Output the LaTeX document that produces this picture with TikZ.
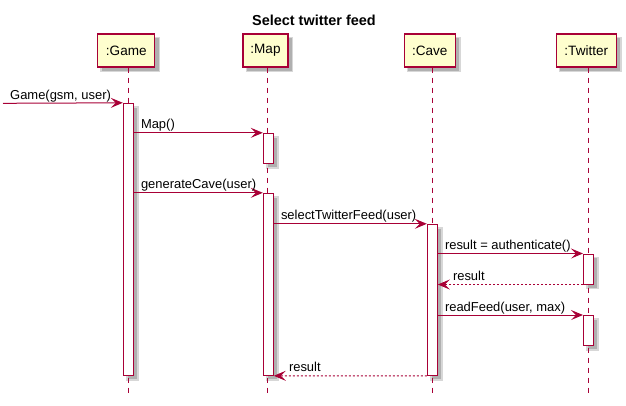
\documentclass[tikz,border=0pt]{standalone}
\usepackage{fontspec}
\setmainfont{Liberation Sans}
\usetikzlibrary{arrows.meta,backgrounds}
\definecolor{pumlred}{HTML}{A80036}
\definecolor{pumlfill}{HTML}{FEFECE}
\definecolor{shadowc}{HTML}{B0B0B0}
\begin{document}
\begin{tikzpicture}[x=1bp,y=-1bp,
  every node/.style={font=\fontsize{13}{15}\selectfont, inner sep=0pt},
  part/.style={draw=pumlred, line width=1.3bp, fill=pumlfill, minimum height=33bp, font=\fontsize{13.6}{15}\selectfont},
  act/.style={draw=pumlred, line width=1bp, fill=white, minimum width=10bp},
  life/.style={draw=pumlred, line width=1bp, dash pattern=on 5bp off 5bp},
  msg/.style={draw=pumlred, line width=1bp, -{Stealth[length=12bp,width=10bp,inset=5bp]}},
  ret/.style={msg, dash pattern=on 2bp off 2bp},
  lbl/.style={anchor=base west, xshift=7bp, yshift=4bp},
  rlbl/.style={anchor=base west, xshift=15bp, yshift=4bp},
  shadowbox/.style={fill=shadowc, draw=shadowc!50, line width=1.5bp},
]
\useasboundingbox (0,0) rectangle (626,405);

% title
\node[font=\bfseries\fontsize{14.5}{16}\selectfont] (title) at (314,20) {Select twitter feed};

% participants
\node[part, minimum width=57bp] (gameP) at (126.3,50.5) {:Game};
\node[part, minimum width=45bp] (mapP) at (265.5,50.5) {:Map};
\node[part, minimum width=51bp] (caveP) at (429.7,50.5) {:Cave};
\node[part, minimum width=60bp] (twP) at (586.3,50.5) {:Twitter};

% lifeline ends
\coordinate (gameE) at (128.3,395);
\coordinate (mapE) at (267.8,395);
\coordinate (caveE) at (432,395);
\coordinate (twE) at (588.5,395);

\draw[life] (gameE |- gameP.south) -- (gameE);
\draw[life] (mapE |- mapP.south) -- (mapE);
\draw[life] (caveE |- caveP.south) -- (caveE);
\draw[life] (twE |- twP.south) -- (twE);

% activations
\node[act, minimum height=272bp] (gameA) at (128.3,239.3) {};
\node[act, minimum height=30bp] (mapA1) at (268.3,148.3) {};
\node[act, minimum height=182bp] (mapA2) at (268.3,284.3) {};
\node[act, minimum height=151bp] (caveA) at (432.3,299.8) {};
\node[act, minimum height=30bp] (twA1) at (588.5,269) {};
\node[act, minimum height=30bp] (twA2) at (588.5,330.5) {};

% shadows
\begin{scope}[on background layer]
  \foreach \n in {gameP,mapP,caveP,twP,gameA,mapA1,mapA2,caveA,twA1,twA2}
    \path[shadowbox] ([shift={(4,4)}]\n.north west) rectangle ([shift={(4,4)}]\n.south east);
\end{scope}

\coordinate (start) at (3,103.3);

% messages
\draw[msg] (start) -- (gameA.north west);
\node[lbl] (l1) at (start) {Game(gsm, user)};

\draw[msg] (gameA.east |- mapA1.north) -- (mapA1.north west);
\node[lbl] (l2) at (gameA.east |- mapA1.north) {Map()};

\draw[msg] (gameA.east |- mapA2.north) -- (mapA2.north west);
\node[lbl] (l3) at (gameA.east |- mapA2.north) {generateCave(user)};

\draw[msg] (mapA2.east |- caveA.north) -- (caveA.north west);
\node[lbl] (l4) at (mapA2.east |- caveA.north) {selectTwitterFeed(user)};

\draw[msg] (caveA.east |- twA1.north) -- (twA1.north west);
\node[lbl] (l5) at (caveA.east |- twA1.north) {result = authenticate()};

\draw[ret] (twA1.south west) -- (caveA.east |- twA1.south);
\node[rlbl] (l6) at (caveA.east |- twA1.south) {result};

\draw[msg] (caveA.east |- twA2.north) -- (twA2.north west);
\node[lbl] (l7) at (caveA.east |- twA2.north) {readFeed(user, max)};

\draw[ret] (caveA.south west) -- (mapA2.south east);
\node[rlbl] (l8) at (mapA2.south east) {result};
\end{tikzpicture}
\end{document}
